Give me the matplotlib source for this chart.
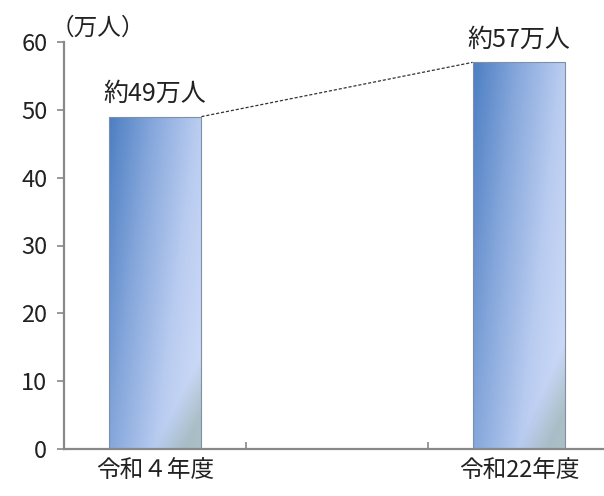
import matplotlib.pyplot as plt
import numpy as np
from matplotlib.colors import LinearSegmentedColormap

plt.rcParams['font.family'] = ['Noto Sans CJK JP', 'DejaVu Sans']

# データ
categories = ["令和４年度", "令和22年度"]
positions = [0, 2]
values = [49, 57]
value_labels = ["約49万人", "約57万人"]
unit_label = "（万人）"
yticks = [0, 10, 20, 30, 40, 50, 60]

fig = plt.figure(figsize=(6.04, 4.96), dpi=100)
ax = fig.add_axes([64 / 604, 47 / 496, 546 / 604, 407 / 496])

bars = ax.bar(positions, values, width=0.51, color='none',
              edgecolor='#7f8fa8', linewidth=0.8, zorder=3)

# グラデーション（左上が濃い青、右下が薄い青）
cmap = LinearSegmentedColormap.from_list(
    'bar', ['#4d7fc3', '#87a8dc', '#b9ccf0', '#d3defa'])
gx, gy = np.meshgrid(np.linspace(0, 1, 60), np.linspace(1, 0, 200))
grad = 0.75 * gx + 0.35 * (1 - gy)
grad = np.clip(grad / grad.max(), 0, 1)
for b in bars:
    x0, y0 = b.get_x(), b.get_y()
    w, h = b.get_width(), b.get_height()
    im = ax.imshow(grad, cmap=cmap, extent=[x0, x0 + w, y0, y0 + h],
                   origin='upper', aspect='auto', zorder=2)
    im.set_clip_path(b)
    # 右下の緑がかった影
    shade = np.zeros((200, 60, 4))
    shade[..., 0] = 0.45
    shade[..., 1] = 0.58
    shade[..., 2] = 0.48
    d = np.clip((gx - 0.72) * 3.0 + (gy - 0.87) * 5.5, 0, 1)
    shade[..., 3] = d * 0.4
    im2 = ax.imshow(shade, extent=[x0, x0 + w, y0, y0 + h],
                    origin='lower', aspect='auto', zorder=2.5)
    im2.set_clip_path(b)

# 点線
ax.plot([positions[0] + 0.255, positions[1] - 0.255], values,
        linestyle=(0, (2.5, 1.5)), color='#333333', linewidth=0.9, zorder=4)

for p, v, t in zip(positions, values, value_labels):
    ax.text(p, v + 1.4, t, ha='center', va='bottom', fontsize=18, color='#222222')

ax.text(-0.025, 1.005, unit_label, transform=ax.transAxes, ha='left', va='bottom',
        fontsize=17, color='#222222')

ax.set_xlim(-0.5, 2.5)
ax.set_ylim(0, 60)
ax.set_yticks(yticks)
ax.set_xticks(positions)
ax.set_xticklabels(categories)
ax.set_xticks([0.5, 1.5], minor=True)
ax.tick_params(axis='x', which='major', length=0, pad=7, labelsize=17, labelcolor='#222222')
ax.tick_params(axis='x', which='minor', length=5, direction='in', color='#888888', width=1.2)
ax.tick_params(axis='y', length=5, direction='out', color='#888888', width=1.2,
               labelsize=17, labelcolor='#222222', pad=7)

for s in ['top', 'right']:
    ax.spines[s].set_visible(False)
for s in ['left', 'bottom']:
    ax.spines[s].set_color('#888888')
    ax.spines[s].set_linewidth(1.6)

fig.savefig('out.png', dpi=100)
